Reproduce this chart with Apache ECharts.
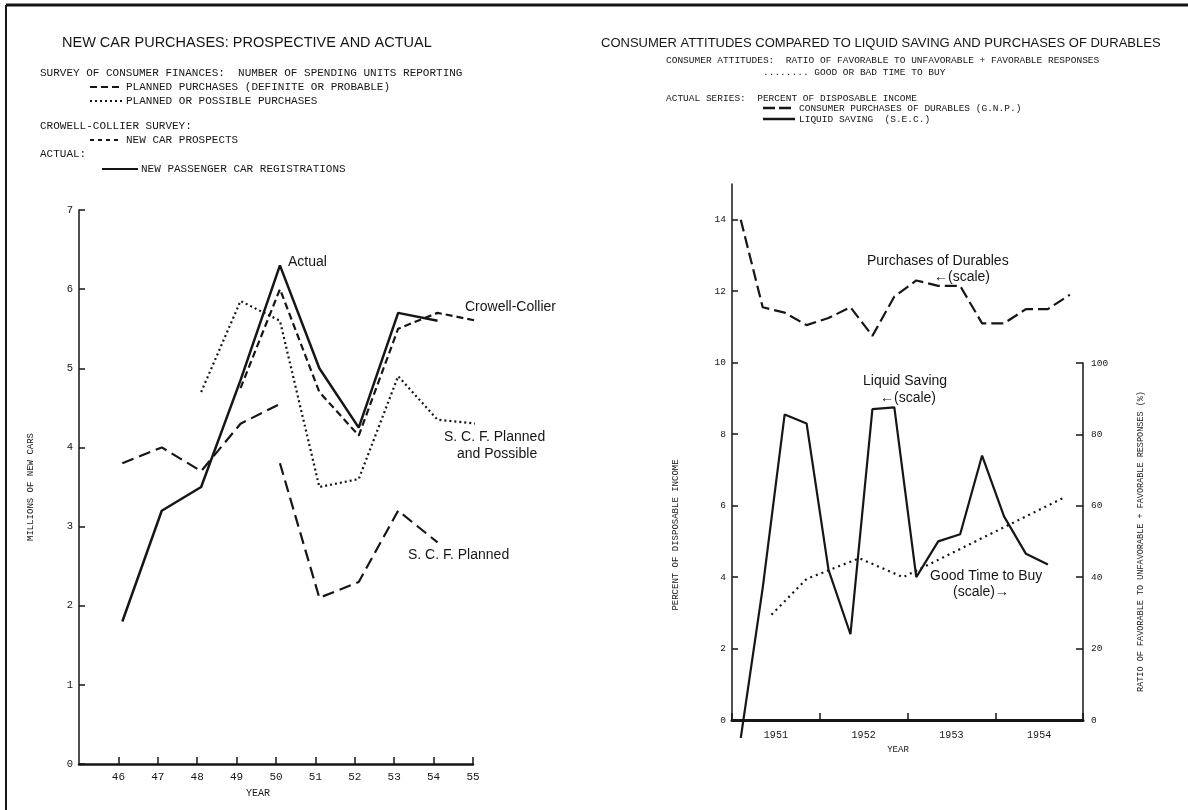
<!DOCTYPE html>
<html>
<head>
<meta charset="utf-8">
<title>New car purchases / consumer attitudes</title>
<script src="https://cdn.jsdelivr.net/npm/echarts@6/dist/echarts.min.js"></script>
<style>
  html, body { margin: 0; padding: 0; background: #fff; }
  #chart { width: 1188px; height: 810px; }
</style>
</head>
<body>
<div id="chart"></div>
<script>
// ---- left panel: new car purchases, millions of cars ----
const carYears = [46, 47, 48, 49, 50, 51, 52, 53, 54, 55]
const carX = [46.1, 47.1, 48.1, 49.1, 50.1, 51.1, 52.1, 53.1, 54.1, 55.1]
const actual = [1.8, 3.2, 3.5, 4.85, 6.3, 5.0, 4.25, 5.7, 5.6, null]
const crowellCollier = [null, null, null, 4.75, 6.0, 4.7, 4.15, 5.5, 5.7, 5.6]
const scfPossible = [null, null, 4.7, 5.85, 5.6, 3.5, 3.6, 4.9, 4.35, 4.3]
const scfPlannedOld = [3.8, 4.0, 3.7, 4.3, 4.55, null, null, null, null, null]
const scfPlannedNew = [null, null, null, null, 3.8, 2.1, 2.3, 3.2, 2.8, null]
const carTicks = [0, 1, 2, 3, 4, 5, 6, 7]

// ---- right panel: quarterly series 1951-54 ----
const yearLabels = ["1951", "1952", "1953", "1954"]
const yearBounds = [1951, 1952, 1953, 1954, 1955]
const quarterX = [1951.1, 1951.35, 1951.6, 1951.85, 1952.1, 1952.35, 1952.6, 1952.85,
  1953.1, 1953.35, 1953.6, 1953.85, 1954.1, 1954.35, 1954.6, 1954.85]
const durables = [14.0, 11.55, 11.4, 11.05, 11.25, 11.55, 10.75, 11.85,
  12.3, 12.15, 12.15, 11.1, 11.1, 11.5, 11.5, 11.9]
const liquidSaving = [-0.5, 3.7, 8.55, 8.3, 4.2, 2.4, 8.7, 8.75,
  4.0, 5.0, 5.2, 7.4, 5.7, 4.65, 4.35, null]
const goodTimeX = [1951.45, 1951.85, 1952.45, 1952.95, 1954.8]
const goodTime = [29.5, 39.5, 45.3, 40, 62.5]
const pctTicks = [0, 2, 4, 6, 8, 10, 12, 14]
const ratioTicks = [0, 20, 40, 60, 80, 100]

const ink = "#161616"
const typeFont = "Liberation Mono"
const sansFont = "Liberation Sans"

function pairs(xs, ys) {
  const out = []
  xs.forEach((x, i) => { if (ys[i] != null) out.push([x, ys[i]]) })
  return out
}

function txt(x, y, s, size, font, extra) {
  return {
    type: "text", x: x, y: y, silent: true,
    style: Object.assign({
      text: s, fill: ink, font: size + 'px "' + font + '"',
      align: "left", verticalAlign: "middle",
      textAlign: "left", textVerticalAlign: "middle"
    }, extra || {})
  }
}
function seg(x1, y1, x2, y2, w, dash) {
  return {
    type: "line", silent: true,
    shape: { x1: x1, y1: y1, x2: x2, y2: y2 },
    style: { stroke: ink, lineWidth: w, lineDash: dash || null }
  }
}

const chart = echarts.init(document.getElementById("chart"))

function lineSeries(name, xi, yi, data, width, dash, extra) {
  return Object.assign({
    name: name, type: "line", xAxisIndex: xi, yAxisIndex: yi,
    data: data, symbol: "none", silent: true,
    lineStyle: { color: ink, width: width, type: dash || "solid", cap: "butt" }
  }, extra || {})
}

const axisText = { color: ink, fontFamily: typeFont, fontSize: 11 }

const option = {
  animation: false,
  backgroundColor: "#fff",
  grid: [
    { left: 79, top: 210, width: 394, height: 554 },
    { left: 732, top: 184, width: 351, height: 536 },
    { left: 732, top: 363, width: 351, height: 357 }
  ],
  xAxis: [
    {
      gridIndex: 0, type: "value", min: 45, max: 55,
      axisLine: { lineStyle: { color: ink, width: 2.5 } },
      axisTick: { inside: true, length: 7, customValues: carYears, lineStyle: { color: ink, width: 1.5 } },
      axisLabel: Object.assign({ customValues: carYears, margin: 8 }, axisText),
      splitLine: { show: false }
    },
    {
      gridIndex: 1, type: "value", min: 1951, max: 1955,
      axisLine: { lineStyle: { color: ink, width: 3 } },
      axisTick: { inside: true, length: 7, customValues: yearBounds, lineStyle: { color: ink, width: 1.5 } },
      axisLabel: Object.assign({
        customValues: yearLabels.map(y => Number(y) + 0.5),
        formatter: v => String(Math.floor(v)), margin: 10
      }, axisText, { fontSize: 10 }),
      splitLine: { show: false }
    },
    { gridIndex: 2, type: "value", min: 1951, max: 1955, show: false }
  ],
  yAxis: [
    {
      gridIndex: 0, type: "value", min: 0, max: 7, interval: 1,
      name: "MILLIONS OF NEW CARS", nameLocation: "middle", nameGap: 44, nameRotate: 90,
      nameTextStyle: { color: ink, fontFamily: typeFont, fontSize: 9 },
      axisLine: { show: true, lineStyle: { color: ink, width: 1.5 } },
      axisTick: { show: true, inside: true, length: 6, customValues: carTicks, lineStyle: { color: ink, width: 1.5 } },
      axisLabel: Object.assign({ customValues: carTicks, margin: 6 }, axisText, { fontSize: 10.5 }),
      splitLine: { show: false }
    },
    {
      gridIndex: 1, type: "value", min: 0, max: 15,
      axisLine: { show: true, lineStyle: { color: ink, width: 1.5 } },
      axisTick: { show: true, inside: true, length: 6, customValues: pctTicks, lineStyle: { color: ink, width: 1.5 } },
      axisLabel: Object.assign({ customValues: pctTicks, margin: 6 }, axisText, { fontSize: 9.5 }),
      splitLine: { show: false }
    },
    {
      gridIndex: 2, type: "value", min: 0, max: 100, interval: 20, position: "right",
      name: "RATIO OF FAVORABLE TO UNFAVORABLE + FAVORABLE RESPONSES (%)",
      nameLocation: "middle", nameGap: 53, nameRotate: 90,
      nameTextStyle: { color: ink, fontFamily: typeFont, fontSize: 8.5 },
      axisLine: { show: true, lineStyle: { color: ink, width: 1.5 } },
      axisTick: { show: true, inside: true, length: 7, customValues: ratioTicks, lineStyle: { color: ink, width: 1.5 } },
      axisLabel: Object.assign({ customValues: ratioTicks, margin: 8 }, axisText, { fontSize: 9.5 }),
      splitLine: { show: false }
    }
  ],
  series: [
    lineSeries("Actual", 0, 0, pairs(carX, actual), 2.5),
    lineSeries("Crowell-Collier", 0, 0, pairs(carX, crowellCollier), 2.2, [7, 4]),
    lineSeries("S. C. F. Planned and Possible", 0, 0, pairs(carX, scfPossible), 2.2, [2, 3]),
    lineSeries("S. C. F. Planned (old)", 0, 0, pairs(carX, scfPlannedOld), 2.2, [12, 6]),
    lineSeries("S. C. F. Planned", 0, 0, pairs(carX, scfPlannedNew), 2.2, [12, 6]),
    lineSeries("Purchases of Durables", 1, 1, pairs(quarterX, durables), 2.2, [12, 5]),
    lineSeries("Liquid Saving", 1, 1, pairs(quarterX, liquidSaving), 2.2, null, { clip: false }),
    lineSeries("Good Time to Buy", 2, 2, pairs(goodTimeX, goodTime), 2.2, [2, 4])
  ],
  graphic: [
    // page frame
    seg(6, 5, 1188, 5, 3),
    seg(6, 5, 6, 810, 2),

    // left header
    txt(62, 43, "NEW CAR PURCHASES: PROSPECTIVE AND ACTUAL", 14.5, sansFont),
    txt(40, 73, "SURVEY OF CONSUMER FINANCES:  NUMBER OF SPENDING UNITS REPORTING", 11, typeFont),
    seg(90, 87, 122, 87, 2, [7, 4]),
    txt(126, 87, "PLANNED PURCHASES (DEFINITE OR PROBABLE)", 11, typeFont),
    seg(90, 101, 122, 101, 2, [2, 3]),
    txt(126, 101, "PLANNED OR POSSIBLE PURCHASES", 11, typeFont),
    txt(40, 126, "CROWELL-COLLIER SURVEY:", 11, typeFont),
    seg(90, 140, 122, 140, 2, [4, 4]),
    txt(126, 140, "NEW CAR PROSPECTS", 11, typeFont),
    txt(40, 154, "ACTUAL:", 11, typeFont),
    seg(102, 169, 138, 169, 2),
    txt(141, 169, "NEW PASSENGER CAR REGISTRATIONS", 11, typeFont),

    // left annotations
    txt(288, 262, "Actual", 14, sansFont),
    txt(465, 307, "Crowell-Collier", 14, sansFont),
    txt(444, 437, "S. C. F. Planned", 14, sansFont),
    txt(457, 454, "and Possible", 14, sansFont),
    txt(408, 555, "S. C. F. Planned", 14, sansFont),
    txt(258, 793, "YEAR", 10, typeFont, { align: "center", textAlign: "center" }),

    // right header
    txt(601, 43, "CONSUMER ATTITUDES COMPARED TO LIQUID SAVING AND PURCHASES OF DURABLES", 13, sansFont),
    txt(666, 60, "CONSUMER ATTITUDES:  RATIO OF FAVORABLE TO UNFAVORABLE + FAVORABLE RESPONSES", 9.5, typeFont),
    txt(763, 72, "........ GOOD OR BAD TIME TO BUY", 9.5, typeFont),
    txt(666, 98, "ACTUAL SERIES:  PERCENT OF DISPOSABLE INCOME", 9.5, typeFont),
    seg(763, 108, 795, 108, 2.5, [12, 4]),
    txt(799, 108, "CONSUMER PURCHASES OF DURABLES (G.N.P.)", 9.5, typeFont),
    seg(763, 119, 795, 119, 2.5),
    txt(799, 119, "LIQUID SAVING  (S.E.C.)", 9.5, typeFont),

    // right annotations
    txt(867, 261, "Purchases of Durables", 14, sansFont),
    txt(934, 277, "\u2190(scale)", 14, sansFont),
    txt(863, 381, "Liquid Saving", 14, sansFont),
    txt(880, 398, "\u2190(scale)", 14, sansFont),
    txt(930, 576, "Good Time to Buy", 14, sansFont),
    txt(953, 592, "(scale)\u2192", 14, sansFont),
    txt(898, 750, "YEAR", 9, typeFont, { align: "center", textAlign: "center" }),
    Object.assign(txt(676, 535, "PERCENT OF DISPOSABLE INCOME", 9, typeFont,
      { align: "center", textAlign: "center" }), { rotation: Math.PI / 2 })
  ]
}

chart.setOption(option)
window.addEventListener("resize", () => chart.resize())
</script>
</body>
</html>
